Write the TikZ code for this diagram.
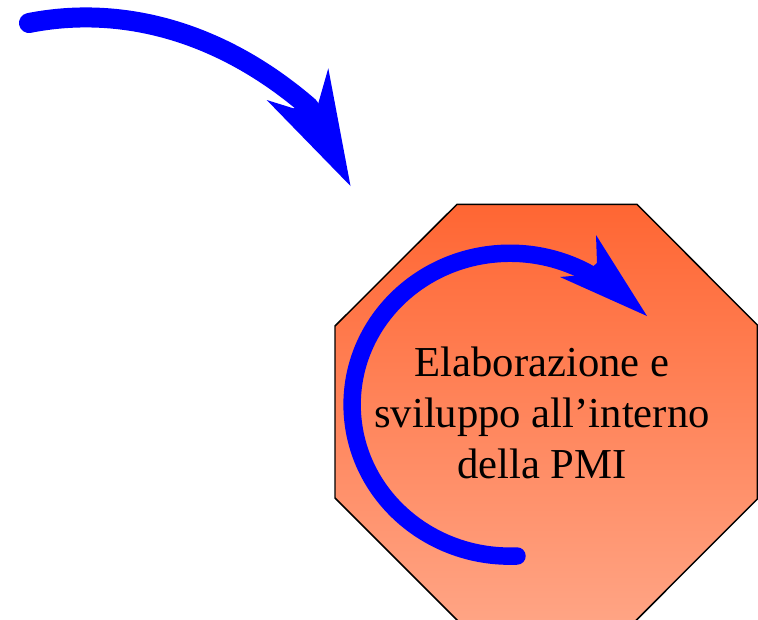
\documentclass[tikz,border=0pt]{standalone}
\usepackage{fontspec}
\setmainfont{Liberation Serif}
\definecolor{octtop}{RGB}{255,102,51}
\definecolor{octbot}{RGB}{255,164,132}
\definecolor{arrowblue}{RGB}{0,0,255}
\tikzset{
  octbox/.style={draw=black, line width=1.1pt, line join=miter, top color=octtop, bottom color=octbot},
  labeltext/.style={font=\fontsize{32}{38}\selectfont, align=center, inner sep=0pt},
  shaft/.style={draw=arrowblue, line cap=round},
  head/.style={fill=arrowblue}
}
\begin{document}
\begin{tikzpicture}[x=0.75pt,y=-0.75pt]
\useasboundingbox (0,0) rectangle (758,619);
\clip (0,0) rectangle (758,619);
% octagon
\coordinate (o1) at (457,204.3);
\coordinate (o2) at (637,204.3);
\coordinate (o3) at (757.3,325);
\coordinate (o4) at (757.3,499);
\coordinate (o5) at (635.5,621);
\coordinate (o6) at (458,621);
\coordinate (o7) at (335,498);
\coordinate (o8) at (335,326);
\path[octbox] (o1) -- (o2) -- (o3) -- (o4) -- (o5) -- (o6) -- (o7) -- (o8) -- cycle;
\node[labeltext] (txt) at (542,413) {Elaborazione e\\sviluppo all’interno\\della PMI};
% top curved arrow
\coordinate (a0) at (29,23);
\coordinate (a1) at (309,107);
\draw[shaft, line width=15pt] (a0) .. controls (120,5) and (220,30) .. (a1);
\fill[head] (350.5,186) -- (328.3,68.3) -- (318.3,103.3) -- (293.3,108.3) -- (266.7,100) -- cycle;
% inner circular arrow
\coordinate (b0) at (517,556);
\draw[shaft, line width=13.1pt] (b0) arc[start angle=272.5, end angle=60, x radius=118.5pt, y radius=113.6pt];
\fill[head] (647,316) -- (596,235) -- (597,263) -- (583,275) -- (560,277) -- cycle;
\end{tikzpicture}
\end{document}
